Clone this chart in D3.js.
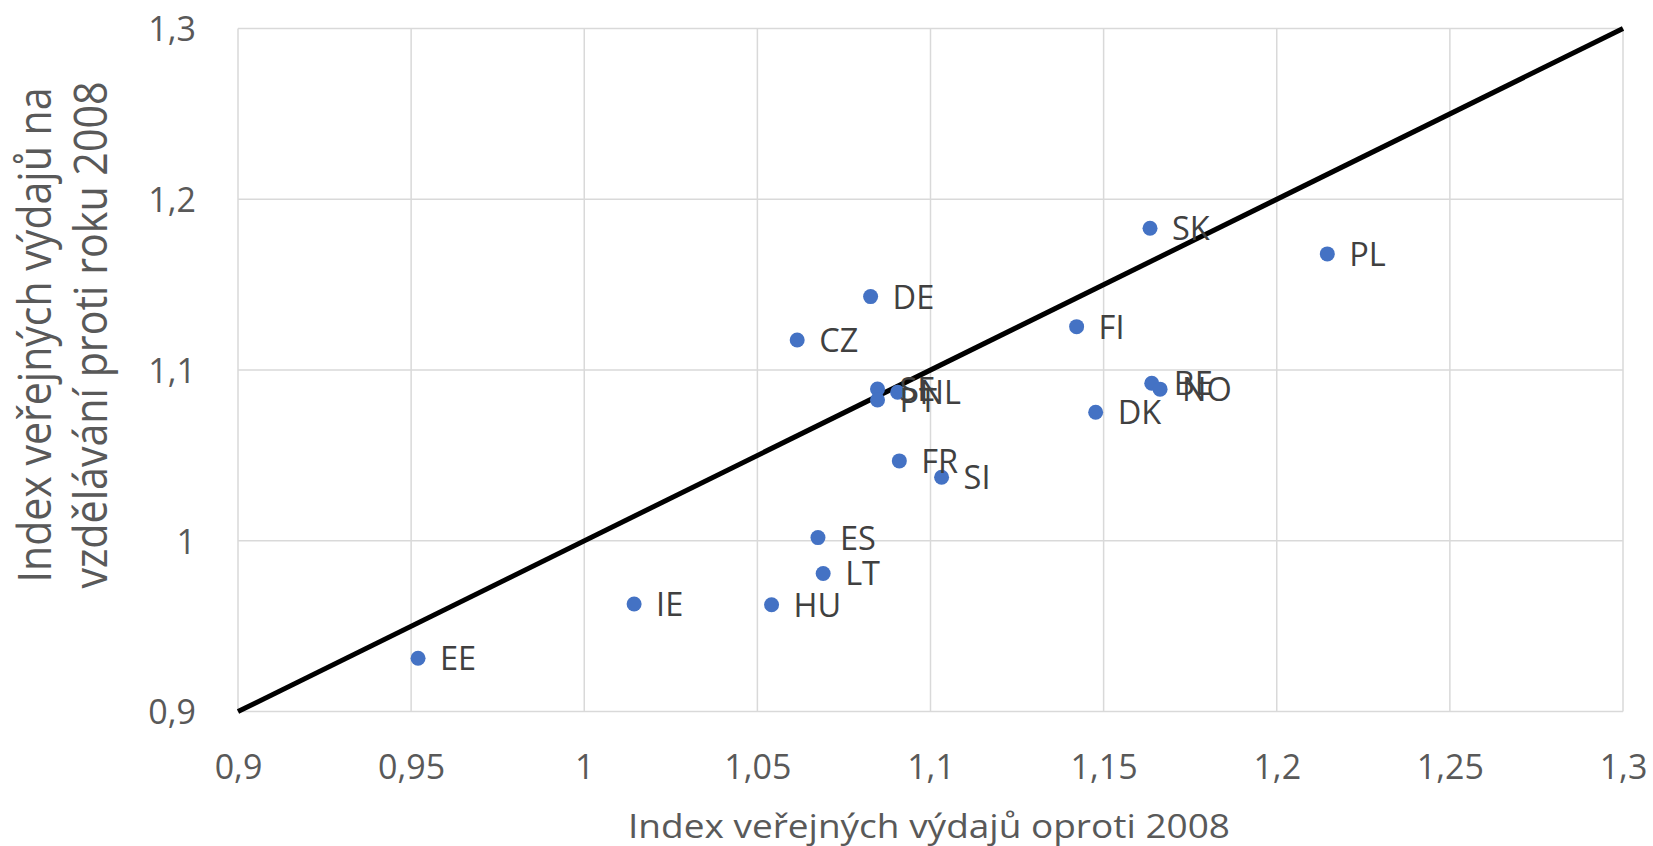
<!DOCTYPE html>
<html>
<head>
<meta charset="utf-8">
<script src="https://cdn.jsdelivr.net/npm/d3@7"></script>
<style>
  body { margin: 0; background: #fff; }
  svg { display: block; font-family: "Open Sans", sans-serif; }
</style>
</head>
<body>
<div id="chart"></div>
<script>
// country codes and the two indices
var countries = ["EE", "IE", "HU", "LT", "ES", "FR", "SI", "CZ", "DE", "SE", "PT", "NL", "FI", "DK", "BE", "NO", "SK", "PL"];
var xValues   = [0.952, 1.0144, 1.0541, 1.069, 1.0675, 1.091, 1.1032, 1.0615, 1.0827, 1.0847, 1.0847, 1.0905, 1.1422, 1.1477, 1.1639, 1.1663, 1.1634, 1.2146];
var yValues   = [0.9312, 0.963, 0.9626, 0.9809, 1.0019, 1.0468, 1.0372, 1.1176, 1.143, 1.0889, 1.0825, 1.087, 1.1254, 1.0753, 1.0923, 1.0888, 1.183, 1.168];

var xTicks = [0.9, 0.95, 1, 1.05, 1.1, 1.15, 1.2, 1.25, 1.3];
var yTicks = [0.9, 1, 1.1, 1.2, 1.3];

var xTitle  = "Index veřejných výdajů oproti 2008";
var yTitle1 = "Index veřejných výdajů na";
var yTitle2 = "vzdělávání proti roku 2008";

var W = 1653, H = 846;
var margin = {top: 28.5, right: 30, bottom: 134.4, left: 238},
    width  = W - margin.left - margin.right,
    height = H - margin.top - margin.bottom;

var svg = d3.select("#chart")
  .append("svg")
    .attr("width", W)
    .attr("height", H);

var g = svg.append("g")
    .attr("transform", "translate(" + margin.left + "," + margin.top + ")");

var x = d3.scaleLinear().domain([0.9, 1.3]).range([0, width]);
var y = d3.scaleLinear().domain([0.9, 1.3]).range([height, 0]);

var fmt = function(d) { return String(d).replace(".", ","); };

// gridlines
g.append("g")
  .selectAll("line")
  .data(xTicks)
  .enter().append("line")
    .attr("x1", function(d) { return x(d); })
    .attr("x2", function(d) { return x(d); })
    .attr("y1", 0)
    .attr("y2", height)
    .attr("stroke", "#d9d9d9")
    .attr("stroke-width", 1.5);

g.append("g")
  .selectAll("line")
  .data(yTicks)
  .enter().append("line")
    .attr("x1", 0)
    .attr("x2", width)
    .attr("y1", function(d) { return y(d); })
    .attr("y2", function(d) { return y(d); })
    .attr("stroke", "#d9d9d9")
    .attr("stroke-width", 1.5);

// axes (labels only)
var xAxis = g.append("g")
  .attr("transform", "translate(0," + height + ")")
  .call(d3.axisBottom(x).tickValues(xTicks).tickFormat(fmt).tickSize(0));
xAxis.select(".domain").remove();
xAxis.selectAll("text")
  .attr("y", 67.4)
  .attr("dy", 0)
  .style("font-size", "34px")
  .style("font-family", "'Open Sans', sans-serif")
  .attr("fill", "#595959");

var yAxis = g.append("g")
  .call(d3.axisLeft(y).tickValues(yTicks).tickFormat(fmt).tickSize(0));
yAxis.select(".domain").remove();
yAxis.selectAll("text")
  .attr("x", -42)
  .attr("dy", "0.36em")
  .style("font-size", "34px")
  .style("font-family", "'Open Sans', sans-serif")
  .attr("fill", "#595959");

// diagonal y = x
g.append("line")
  .attr("x1", x(0.9)).attr("y1", y(0.9))
  .attr("x2", x(1.3)).attr("y2", y(1.3))
  .attr("stroke", "#000")
  .attr("stroke-width", 5);

// points
var data = countries.map(function(c, i) { return {name: c, x: xValues[i], y: yValues[i]}; });

g.selectAll("circle")
  .data(data)
  .enter().append("circle")
    .attr("cx", function(d) { return x(d.x); })
    .attr("cy", function(d) { return y(d.y); })
    .attr("r", 7.5)
    .attr("fill", "#4472C4");

g.selectAll("text.lbl")
  .data(data)
  .enter().append("text")
    .attr("class", "lbl")
    .attr("x", function(d) { return x(d.x) + 22; })
    .attr("y", function(d) { return y(d.y) + 12; })
    .style("font-size", "32.5px")
    .attr("fill", "#404040")
    .text(function(d) { return d.name; });

// axis titles
svg.append("text")
  .attr("x", 929)
  .attr("y", 838)
  .attr("text-anchor", "middle")
  .attr("textLength", 602)
  .attr("lengthAdjust", "spacingAndGlyphs")
  .style("font-size", "33px")
  .attr("fill", "#595959")
  .text(xTitle);

svg.append("text")
  .attr("transform", "translate(51,335) rotate(-90)")
  .attr("text-anchor", "middle")
  .attr("textLength", 495)
  .attr("lengthAdjust", "spacingAndGlyphs")
  .style("font-size", "45px")
  .attr("fill", "#595959")
  .text(yTitle1);

svg.append("text")
  .attr("transform", "translate(107,335) rotate(-90)")
  .attr("text-anchor", "middle")
  .attr("textLength", 507)
  .attr("lengthAdjust", "spacingAndGlyphs")
  .style("font-size", "45px")
  .attr("fill", "#595959")
  .text(yTitle2);
</script>
</body>
</html>
